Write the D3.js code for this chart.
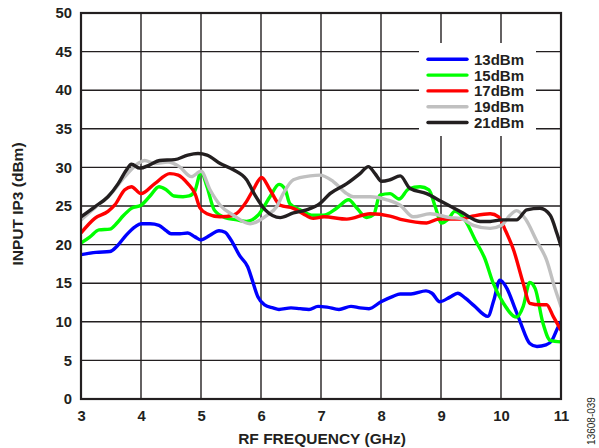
<!DOCTYPE html>
<html>
<head>
<meta charset="utf-8">
<script src="https://cdn.jsdelivr.net/npm/d3@7"></script>
<style>
  html, body { margin: 0; padding: 0; background: #fff; }
  svg { display: block; }
  text { font-family: "Liberation Sans", Arial, sans-serif; }
</style>
</head>
<body>
<svg id="chart" width="599" height="448"></svg>
<script>
// ---- data (frequency GHz, input IP3 dBm) ----
const xTicks = [3, 4, 5, 6, 7, 8, 9, 10, 11];
const yTicks = [0, 5, 10, 15, 20, 25, 30, 35, 40, 45, 50];
const seriesNames = ["13dBm", "15dBm", "17dBm", "19dBm", "21dBm"];
const seriesColors = ["#0000ff", "#00ff00", "#ff0000", "#c0c0c0", "#231f20"];

const s13 = [[3.0,18.7],[3.25,19.0],[3.48,19.1],[3.6,19.8],[3.75,21.2],[3.9,22.3],[4.0,22.7],[4.15,22.7],[4.3,22.5],[4.42,21.8],[4.5,21.4],[4.65,21.4],[4.78,21.5],[4.9,21.0],[5.0,20.6],[5.15,21.2],[5.3,21.8],[5.4,21.6],[5.5,20.6],[5.65,18.5],[5.78,17.1],[5.85,15.5],[5.95,13.2],[6.06,12.2],[6.2,11.8],[6.3,11.6],[6.5,11.8],[6.65,11.7],[6.8,11.6],[6.95,12.0],[7.1,11.9],[7.3,11.6],[7.5,12.0],[7.65,11.8],[7.8,11.7],[8.0,12.6],[8.2,13.3],[8.32,13.6],[8.5,13.6],[8.75,14.0],[8.85,13.7],[8.98,12.6],[9.15,13.2],[9.28,13.7],[9.4,13.1],[9.55,12.1],[9.78,10.7],[9.88,12.8],[9.98,15.4],[10.1,14.3],[10.22,12.0],[10.32,10.0],[10.48,7.2],[10.6,6.8],[10.75,7.0],[10.85,7.6],[10.95,9.3],[11.0,10.0]];
const s15 = [[3.0,20.2],[3.15,21.0],[3.3,21.9],[3.48,22.0],[3.6,22.8],[3.7,23.7],[3.84,24.7],[4.0,25.1],[4.15,26.3],[4.3,27.5],[4.42,27.1],[4.55,26.3],[4.7,26.2],[4.8,26.3],[4.9,27.0],[5.0,29.4],[5.1,27.5],[5.22,24.5],[5.4,23.5],[5.6,23.2],[5.76,23.0],[5.95,23.8],[6.15,26.2],[6.3,27.8],[6.4,27.2],[6.48,25.3],[6.65,24.5],[6.87,23.8],[7.04,23.8],[7.26,24.7],[7.46,25.8],[7.6,24.7],[7.76,23.5],[7.88,23.9],[7.98,26.4],[8.15,26.6],[8.3,25.9],[8.46,27.2],[8.65,27.5],[8.8,27.1],[8.9,25.0],[9.01,22.8],[9.12,23.3],[9.23,24.3],[9.4,23.2],[9.57,20.6],[9.73,18.2],[9.87,15.0],[10.04,12.4],[10.26,10.6],[10.37,12.0],[10.48,15.1],[10.57,14.3],[10.7,9.8],[10.82,7.6],[11.0,7.4]];
const s17 = [[3.0,21.5],[3.23,23.4],[3.45,24.3],[3.56,25.1],[3.73,27.1],[3.84,27.5],[4.0,26.6],[4.23,27.9],[4.48,29.2],[4.62,29.0],[4.78,27.9],[4.9,26.6],[4.98,24.8],[5.1,24.0],[5.32,23.6],[5.54,23.8],[5.76,25.6],[5.87,27.1],[6.01,28.7],[6.15,27.1],[6.32,25.1],[6.54,24.7],[6.7,24.0],[6.87,23.4],[7.05,23.6],[7.43,23.3],[7.82,24.0],[8.15,23.7],[8.37,23.2],[8.76,22.8],[8.96,23.3],[9.32,23.3],[9.54,23.7],[9.82,24.0],[9.96,23.6],[10.07,21.9],[10.21,19.3],[10.37,15.0],[10.48,12.4],[10.65,12.2],[10.76,12.2],[10.87,10.7],[11.0,8.9]];
const s19 = [[3.0,23.2],[3.28,25.1],[3.5,26.6],[3.73,28.8],[3.95,30.5],[4.06,30.9],[4.23,30.5],[4.45,30.7],[4.64,30.1],[4.84,28.8],[5.0,29.5],[5.15,27.1],[5.32,25.1],[5.54,23.8],[5.82,22.7],[6.1,23.8],[6.26,24.9],[6.37,26.6],[6.54,28.4],[6.82,28.9],[6.98,29.0],[7.2,28.2],[7.43,26.6],[7.54,26.2],[7.82,26.2],[8.1,25.8],[8.32,25.1],[8.54,23.6],[8.82,24.0],[9.15,23.5],[9.32,23.4],[9.54,22.5],[9.82,22.1],[10.01,22.5],[10.15,23.8],[10.26,24.4],[10.4,23.4],[10.6,20.4],[10.76,18.0],[10.9,14.3],[11.0,12.0]];
const s21 = [[3.0,23.6],[3.23,24.9],[3.45,26.2],[3.62,27.9],[3.76,29.7],[3.84,30.4],[3.98,29.9],[4.14,30.3],[4.31,30.9],[4.56,31.0],[4.78,31.6],[4.95,31.8],[5.1,31.6],[5.32,30.5],[5.54,29.7],[5.76,28.4],[5.9,26.4],[6.07,24.5],[6.32,23.5],[6.54,24.1],[6.76,24.5],[6.98,25.3],[7.15,26.6],[7.43,27.9],[7.65,29.2],[7.79,30.1],[7.9,29.2],[8.01,28.2],[8.15,28.4],[8.32,28.9],[8.48,27.3],[8.76,26.6],[9.0,25.6],[9.32,24.3],[9.65,23.0],[9.82,23.0],[10.01,23.2],[10.26,23.2],[10.43,24.5],[10.65,24.7],[10.82,23.8],[10.93,21.5],[11.0,19.8]];
const seriesData = [s13, s15, s17, s19, s21];

// ---- layout ----
const svg = d3.select("#chart");
const x = d3.scaleLinear().domain([3, 11]).range([81, 561]);
const y = d3.scaleLinear().domain([0, 50]).range([399, 13]);
const FONT = "Liberation Sans, Arial, sans-serif";

// grid
const grid = svg.append("g");
grid.selectAll("line.v").data(xTicks.slice(1, -1)).enter().append("line")
  .attr("x1", d => x(d)).attr("x2", d => x(d))
  .attr("y1", y(0)).attr("y2", y(50))
  .attr("stroke", "#231f20").attr("stroke-width", 1.4);
grid.selectAll("line.h").data(yTicks.slice(1, -1)).enter().append("line")
  .attr("x1", x(3)).attr("x2", x(11))
  .attr("y1", d => y(d)).attr("y2", d => y(d))
  .attr("stroke", "#231f20").attr("stroke-width", 1.4);

// legend background (covers grid)
const legend = svg.append("g");
legend.append("rect").attr("x", 419).attr("y", 43).attr("width", 117).attr("height", 93).attr("fill", "#fff");

// lines
const line = d3.line().x(d => x(d[0])).y(d => y(d[1])).curve(d3.curveMonotoneX);
svg.append("clipPath").attr("id", "clip").append("rect")
  .attr("x", x(3)).attr("y", y(50)).attr("width", x(11) - x(3)).attr("height", y(0) - y(50));
svg.append("g").attr("clip-path", "url(#clip)")
  .selectAll("path").data(seriesData).enter().append("path")
  .attr("d", line)
  .attr("fill", "none")
  .attr("stroke", (d, i) => seriesColors[i])
  .attr("stroke-width", 3.4)
  .attr("stroke-linejoin", "round")
  .attr("stroke-linecap", "round");

// frame
svg.append("rect").attr("x", x(3)).attr("y", y(50))
  .attr("width", x(11) - x(3)).attr("height", y(0) - y(50))
  .attr("fill", "none").attr("stroke", "#231f20").attr("stroke-width", 2.2);

// axes
const yAxis = svg.append("g").attr("transform", `translate(${x(3)},0)`)
  .call(d3.axisLeft(y).tickValues(yTicks).tickSize(0).tickPadding(9));
const xAxis = svg.append("g").attr("transform", `translate(0,${y(0)})`)
  .call(d3.axisBottom(x).tickValues(xTicks).tickSize(0).tickPadding(11));
[xAxis, yAxis].forEach(a => {
  a.select(".domain").remove();
  a.selectAll("text").attr("font-family", FONT).attr("font-size", 14.8)
    .attr("font-weight", "bold").attr("fill", "#231f20");
});

// legend entries
const rows = legend.selectAll("g.row").data(seriesNames).enter().append("g")
  .attr("transform", (d, i) => `translate(0,${59.3 + i * 15.8})`);
rows.append("line").attr("x1", 428).attr("x2", 467).attr("y1", 0).attr("y2", 0)
  .attr("stroke", (d, i) => seriesColors[i]).attr("stroke-width", 3.4).attr("stroke-linecap", "round");
rows.append("text").attr("x", 474).attr("y", 0).attr("dy", "0.36em")
  .attr("font-family", FONT).attr("font-size", 15).attr("font-weight", "bold")
  .attr("fill", "#231f20").text(d => d);

// titles
svg.append("text").attr("x", 322).attr("y", 443.5).attr("text-anchor", "middle")
  .attr("font-family", FONT).attr("font-size", 15.5).attr("font-weight", "bold")
  .attr("fill", "#231f20").text("RF FREQUENCY (GHz)");
svg.append("text").attr("transform", "translate(22.5,204) rotate(-90)").attr("text-anchor", "middle")
  .attr("font-family", FONT).attr("font-size", 15.5).attr("font-weight", "bold")
  .attr("fill", "#231f20").text("INPUT IP3 (dBm)");
svg.append("text").attr("transform", "translate(595,421) rotate(-90)").attr("text-anchor", "middle")
  .attr("font-family", FONT).attr("font-size", 10)
  .attr("fill", "#231f20").text("13608-039");
</script>
</body>
</html>
